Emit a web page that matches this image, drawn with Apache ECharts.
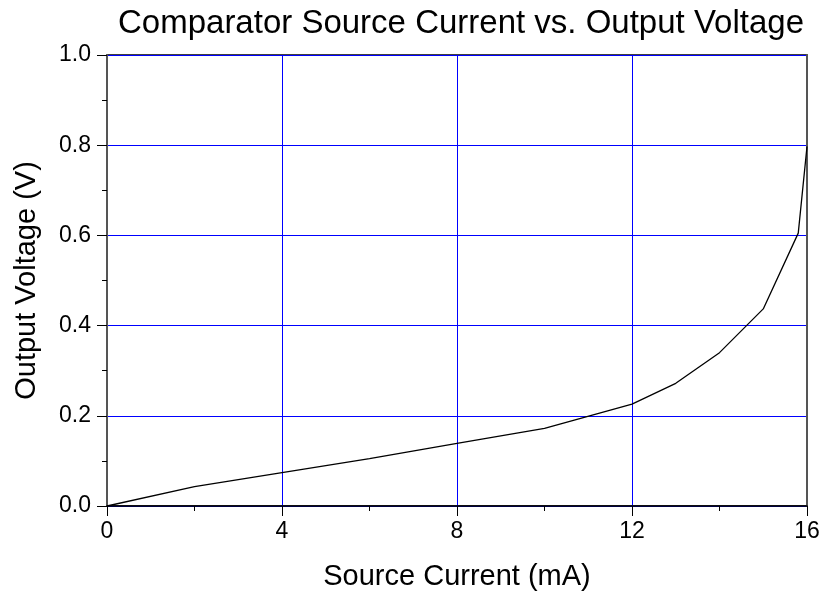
<!DOCTYPE html>
<html>
<head>
<meta charset="utf-8">
<script src="https://cdn.jsdelivr.net/npm/echarts@6/dist/echarts.min.js"></script>
<style>html,body{margin:0;padding:0;background:#fff}#c{width:826px;height:596px}</style>
</head>
<body>
<div id="c"></div>
<script>
const titleText = "Comparator Source Current vs. Output Voltage";
const xName = "Source Current (mA)";
const yName = "Output Voltage (V)";
const currentMA = [0, 2, 4, 6, 8, 10, 12, 13, 14, 15, 15.8, 16];
const voltageV = [0, 0.043, 0.074, 0.105, 0.139, 0.172, 0.226, 0.272, 0.340, 0.437, 0.605, 0.797];

const font = "'Liberation Sans', Arial, sans-serif";
const chart = echarts.init(document.getElementById('c'), null, {renderer: 'canvas'});
chart.setOption({
  animation: false,
  backgroundColor: '#fff',
  title: {
    text: titleText, left: 456, top: 2, textAlign: 'center',
    textStyle: {fontFamily: font, fontSize: 33, fontWeight: 'normal', color: '#000'}
  },
  grid: {left: 107, right: 19, top: 55, bottom: 90, containLabel: false,
    show: true, borderColor: '#000', borderWidth: 1.5, backgroundColor: 'transparent'},
  xAxis: {
    type: 'value', min: 0, max: 16, interval: 4, position: 'bottom',
    name: xName, nameLocation: 'middle', nameGap: 56,
    nameTextStyle: {fontFamily: font, fontSize: 29, color: '#000'},
    axisLine: {show: true, lineStyle: {color: '#000', width: 1.5}},
    axisTick: {show: true, inside: false, length: 10, lineStyle: {color: '#000', width: 1}},
    minorTick: {show: true, splitNumber: 2, length: 5, lineStyle: {color: '#000', width: 1}},
    axisLabel: {fontFamily: font, fontSize: 23, color: '#000', margin: 14},
    splitLine: {show: true, lineStyle: {color: 'rgb(0,0,255)', width: 1}}
  },
  yAxis: [{
    type: 'value', min: 0, max: 1, interval: 0.2, position: 'left',
    name: yName, nameLocation: 'middle', nameGap: 66, nameRotate: 90,
    nameTextStyle: {fontFamily: font, fontSize: 29, color: '#000'},
    axisLine: {show: true, lineStyle: {color: '#555', width: 2}},
    axisTick: {show: true, inside: false, length: 10, lineStyle: {color: '#000', width: 1}},
    minorTick: {show: true, splitNumber: 2, length: 5, lineStyle: {color: '#000', width: 1}},
    axisLabel: {fontFamily: font, fontSize: 23, color: '#000', margin: 16,
      formatter: v => v.toFixed(1)},
    splitLine: {show: true, lineStyle: {color: 'rgb(0,0,255)', width: 1}}
  }, {
    type: 'value', min: 0, max: 1, interval: 0.2, position: 'right',
    axisLine: {show: true, lineStyle: {color: '#555', width: 2}},
    axisTick: {show: false}, axisLabel: {show: false}, splitLine: {show: false},
    minorTick: {show: false}
  }],
  series: [{
    type: 'line', yAxisIndex: 0,
    data: currentMA.map((x, i) => [x, voltageV[i]]),
    showSymbol: false, symbol: 'none',
    lineStyle: {color: '#000', width: 1.3}, z: 5
  }]
});
</script>
</body>
</html>
